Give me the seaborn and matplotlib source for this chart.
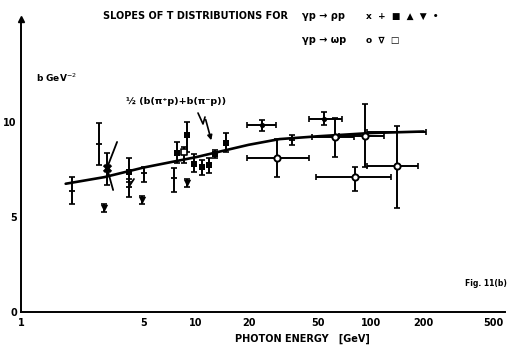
import numpy as np
import pandas as pd
import matplotlib
matplotlib.use("Agg")
import matplotlib.pyplot as plt
import seaborn as sns
from matplotlib.lines import Line2D

# ---------------- data ----------------
# smooth curve 1/2 (b(pi+p)+b(pi-p))
curve_E = [1.8, 3, 5, 10, 20, 30, 50, 100, 200]
curve_b = [6.75, 7.1, 7.6, 8.15, 8.8, 9.1, 9.25, 9.42, 9.5]

# rho: "+" type points (bar with tick)
plus_E = [1.96, 2.79, 4.14, 5.05, 7.48, 35.3]
plus_b = [6.37, 8.84, 6.6, 7.3, 7.05, 9.05]
plus_lo = [5.68, 7.74, 6.05, 6.84, 6.3, 8.8]
plus_hi = [7.1, 9.95, 7.0, 7.65, 7.6, 9.3]

# rho: point with horizontal bar only
hbar_E = [135]
hbar_b = [9.45]
hbar_xlo = [95]
hbar_xhi = [205]

# rho: big x marker
x_E = [3.1]
x_b = [7.58]
x_lo = [6.68]
x_hi = [8.37]
# tilted bars attached to points
tilt1_E = [3.54, 3.1, 3.36]
tilt1_b = [8.95, 7.58, 6.42]
tilt2_E = [4.14, 4.42]
tilt2_b = [6.6, 7.0]

# rho: filled squares
sq_E = [4.14, 7.79, 8.88, 9.7, 10.8, 11.9, 12.8, 14.8]
sq_b = [7.37, 8.37, 9.32, 7.8, 7.63, 7.74, 8.3, 8.9]
sq_lo = [6.84, 7.84, 8.4, 7.35, 7.2, 7.3, 8.1, 8.4]
sq_hi = [8.1, 8.95, 10.0, 8.3, 8.0, 8.1, 8.5, 9.4]

# rho: down triangles
tri_E = [2.98, 4.9, 8.9]
tri_b = [5.47, 5.9, 6.79]
tri_lo = [5.25, 5.7, 6.6]
tri_hi = [5.7, 6.1, 7.0]

# rho: small filled circles with energy bins
dot_E = [23.8, 54]
dot_b = [9.84, 10.15]
dot_lo = [9.5, 9.85]
dot_hi = [10.1, 10.5]
dot_xlo = [19.6, 44]
dot_xhi = [28.7, 68]

# omega: open circles with energy bins
oc_E = [29, 62.6, 92.4, 140.8, 81]
oc_b = [8.1, 9.2, 9.26, 7.68, 7.1]
oc_lo = [7.1, 8.16, 7.63, 5.5, 6.37]
oc_hi = [9.1, 10.2, 10.95, 9.8, 7.63]
oc_xlo = [19.6, 46, 65.7, 95, 48.5]
oc_xhi = [44, 80, 119, 186, 130]

# omega: open square
osq_E = [8.54]
osq_b = [8.42]
osq_lo = [7.84]
osq_hi = [8.68]

x_ticks = [1, 5, 10, 20, 50, 100, 200, 500]
x_ticklabels = ["1", "5", "10", "20", "50", "100", "200", "500"]
y_ticks = [0, 5, 10]
y_ticklabels = ["0", "5", "10"]

# ---------------- figure ----------------
sns.set_style("white")
plt.rcParams["font.family"] = ["DejaVu Sans"]
W, H = 510, 352
fig = plt.figure(figsize=(W / 100, H / 100), dpi=100)
ax = fig.add_axes([21 / W, 40 / H, 484 / W, 293 / H])
ax.set_xscale("log")
ax.set_xlim(1, 10 ** (484 / 175))
ax.set_ylim(0, 293 / 19)

K = "black"
ekw = dict(fmt="none", ecolor=K, elinewidth=1.4, capsize=2.5, capthick=1.2)

def err(E, b, lo, hi):
    E = np.array(E); b = np.array(b)
    return [b - np.array(lo), np.array(hi) - b]

def xerr(E, xlo, xhi):
    E = np.array(E)
    return [E - np.array(xlo), np.array(xhi) - E]

# curve
sns.lineplot(x=curve_E, y=curve_b, ax=ax, color=K, lw=1.9, estimator=None, sort=False)

# error bars
ax.errorbar(plus_E, plus_b, yerr=err(plus_E, plus_b, plus_lo, plus_hi), **ekw)
ax.errorbar(x_E, x_b, yerr=err(x_E, x_b, x_lo, x_hi), **ekw)
ax.errorbar(sq_E, sq_b, yerr=err(sq_E, sq_b, sq_lo, sq_hi), **ekw)
ax.errorbar(tri_E, tri_b, yerr=err(tri_E, tri_b, tri_lo, tri_hi), **ekw)
ax.errorbar(dot_E, dot_b, yerr=err(dot_E, dot_b, dot_lo, dot_hi),
            xerr=xerr(dot_E, dot_xlo, dot_xhi), **ekw)
ax.errorbar(oc_E, oc_b, yerr=err(oc_E, oc_b, oc_lo, oc_hi),
            xerr=xerr(oc_E, oc_xlo, oc_xhi), **ekw)
ax.errorbar(osq_E, osq_b, yerr=err(osq_E, osq_b, osq_lo, osq_hi), **ekw)
ax.errorbar(hbar_E, hbar_b, xerr=xerr(hbar_E, hbar_xlo, hbar_xhi), **ekw)

# tilted bars
sns.lineplot(x=tilt1_E, y=tilt1_b, ax=ax, color=K, lw=1.3, estimator=None, sort=False)
sns.lineplot(x=tilt2_E, y=tilt2_b, ax=ax, color=K, lw=1.3, estimator=None, sort=False)

# markers
sns.scatterplot(x=plus_E, y=plus_b, ax=ax, marker="_", s=25, color=K, linewidth=1.3, zorder=5)
sns.scatterplot(x=x_E, y=x_b, ax=ax, marker="X", s=45, color=K, linewidth=0, zorder=5)
sns.scatterplot(x=sq_E, y=sq_b, ax=ax, marker="s", s=22, color=K, linewidth=0, zorder=5)
sns.scatterplot(x=tri_E, y=tri_b, ax=ax, marker="v", s=28, color=K, linewidth=0, zorder=5)
sns.scatterplot(x=dot_E, y=dot_b, ax=ax, marker="o", s=14, color=K, linewidth=0, zorder=5)
sns.scatterplot(x=oc_E, y=oc_b, ax=ax, marker="o", s=20, facecolor="white",
                edgecolor=K, linewidth=1.4, zorder=6)
sns.scatterplot(x=osq_E, y=osq_b, ax=ax, marker="s", s=20, facecolor="white",
                edgecolor=K, linewidth=1.2, zorder=6)

# axes styling
for s in ["top", "right"]:
    ax.spines[s].set_visible(False)
for s in ["left", "bottom"]:
    ax.spines[s].set_color(K)
    ax.spines[s].set_linewidth(1.4)
ax.minorticks_off()
ax.set_xticks(x_ticks)
ax.set_xticklabels(x_ticklabels)
ax.set_yticks(y_ticks)
ax.set_yticklabels(y_ticklabels)
ax.tick_params(axis="both", direction="in", length=6, width=1.0, colors=K,
               labelsize=7)
for lab in ax.get_xticklabels() + ax.get_yticklabels():
    lab.set_fontweight("bold")
ax.tick_params(axis="x", pad=4)
ax.tick_params(axis="y", pad=3)
ax.plot(0, 1, marker="^", color=K, ms=4, transform=ax.transAxes, clip_on=False)
ax.set_xlabel("")
ax.set_ylabel("")

def fx(px):
    return px / W

def fy(py):
    return 1 - py / H

tkw = dict(fontsize=7, fontweight="bold", color=K, va="center")
fig.text(fx(103), fy(16), "SLOPES OF T DISTRIBUTIONS FOR", ha="left", **tkw)
fig.text(fx(302), fy(16), "γp → ρp", ha="left", **tkw)
fig.text(fx(366), fy(16), "x  +  ■  ▲  ▼  •", ha="left", fontsize=6.5,
         fontweight="bold", color=K, va="center")
fig.text(fx(302), fy(40), "γp → ωp", ha="left", **tkw)
fig.text(fx(366), fy(40), "o  ∇  □", ha="left", fontsize=6.5,
         fontweight="bold", color=K, va="center")
fig.text(fx(36), fy(78), "b GeV$^{-2}$", ha="left", fontsize=6.5, color=K,
         fontweight="bold", va="center")
fig.text(fx(126), fy(102), "½ (b(π⁺p)+b(π⁻p))", ha="left", fontsize=6.8,
         fontweight="bold", color=K, va="center")
fig.text(fx(507), fy(283), "Fig. 11(b)", ha="right", fontsize=5.5, color=K,
         fontweight="bold", va="center")
fig.text(fx(302), fy(339), "PHOTON ENERGY   [GeV]", ha="center", fontsize=7,
         fontweight="bold", color=K, va="center")

# lightning arrow
zig_x = [198, 203, 205]
zig_y = [113, 124, 117]
fig.add_artist(Line2D([fx(v) for v in zig_x], [fy(v) for v in zig_y],
                      transform=fig.transFigure, color=K, lw=1.2))
fig.add_artist(matplotlib.patches.FancyArrowPatch(
    (fx(205), fy(117)), (fx(212), fy(143)), transform=fig.transFigure,
    arrowstyle="-|>", mutation_scale=7, color=K, lw=1.2))

fig.savefig("out.png", dpi=100, facecolor="white")
